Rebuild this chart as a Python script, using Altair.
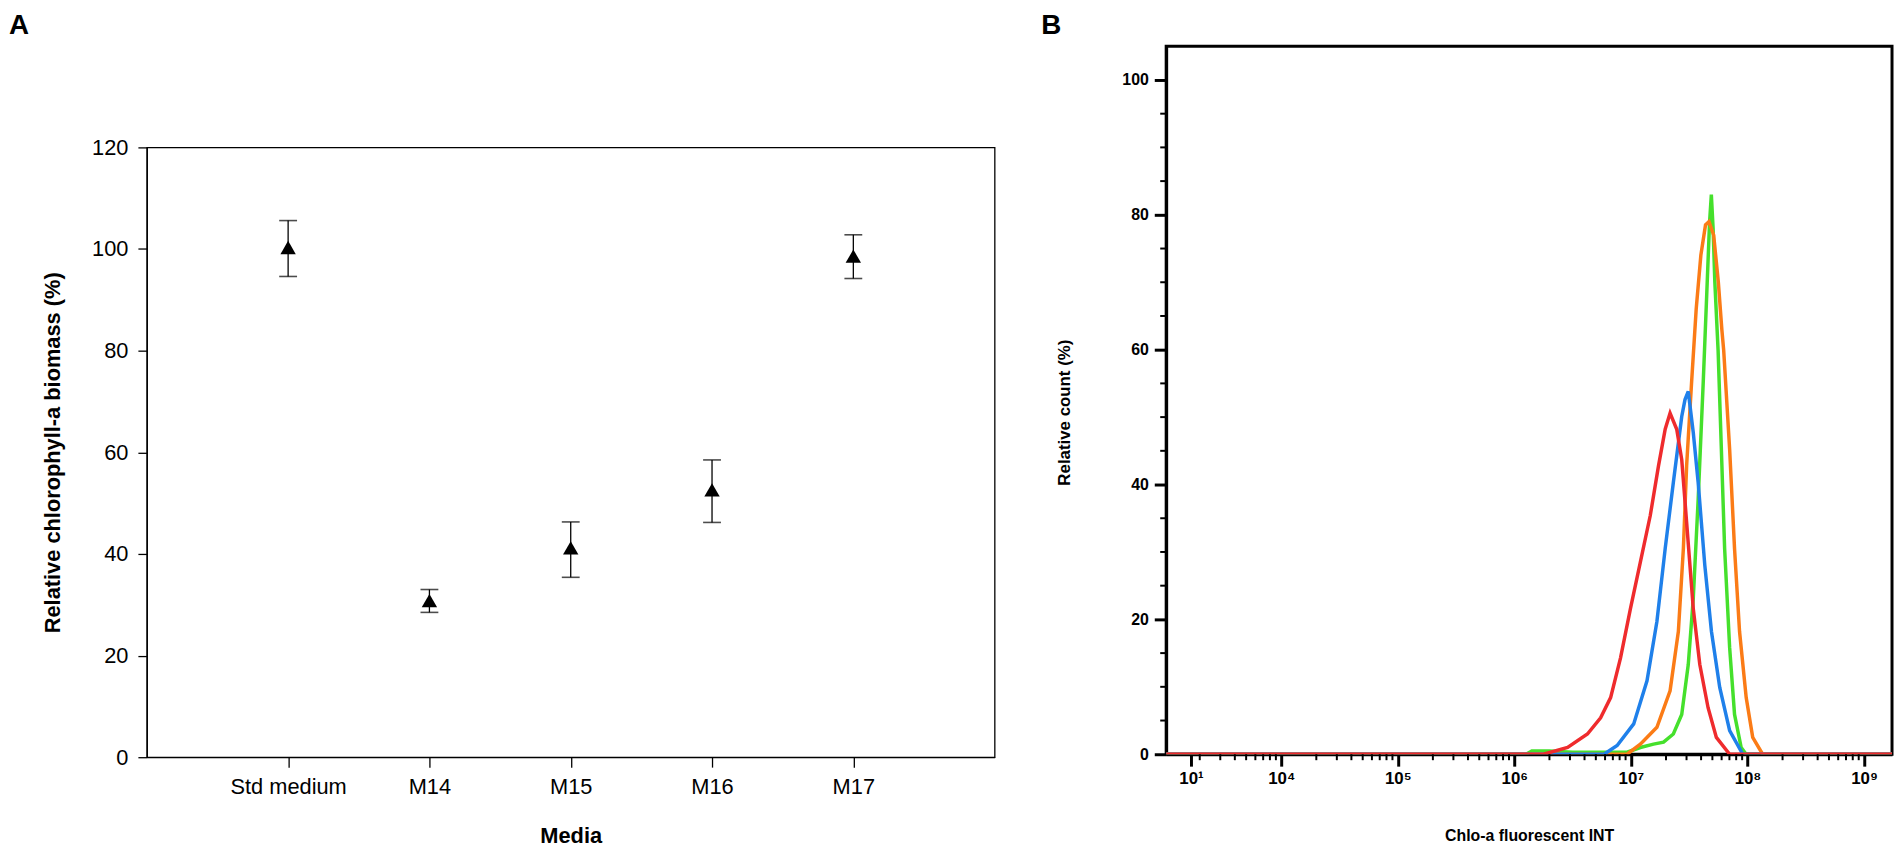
import altair as alt
import pandas as pd

# ---------------- Panel A data ----------------
media = ["Std medium", "M14", "M15", "M16", "M17"]
biomass_mean = [100.3, 30.8, 41.2, 52.6, 98.6]
biomass_low = [94.6, 28.5, 35.4, 46.2, 94.2]
biomass_high = [105.6, 33.0, 46.3, 58.5, 102.8]

# ---------------- Panel B data (log10 of fluorescence, relative count %) ----------------
green_logx = [3.013, 6.10, 6.15, 6.30, 6.50, 6.967, 7.081, 7.194, 7.28, 7.364, 7.436, 7.492, 7.535,
              7.577, 7.62, 7.65, 7.675, 7.69, 7.705, 7.72, 7.748, 7.776, 7.804, 7.847, 7.889, 7.946,
              7.989, 9.24]
green_y = [0, 0, 0.5, 0.5, 0.3, 0.3, 1.0, 1.5, 1.8, 3.0, 5.9, 13.3, 23.1,
           37.8, 55.0, 68.0, 79.0, 83.0, 78.0, 70.0, 59.9, 45.2, 30.5, 15.8, 5.9, 1.0,
           0, 0]

orange_logx = [3.013, 6.967, 7.081, 7.223, 7.336, 7.407, 7.45, 7.478, 7.52, 7.56, 7.60, 7.64, 7.67,
               7.71, 7.75, 7.78, 7.796, 7.847, 7.889, 7.932, 7.989, 8.045, 8.13, 9.24]
orange_y = [0, 0, 1.5, 4.0, 9.4, 18.2, 30.5, 42.8, 55.0, 66.0, 74.0, 78.5, 79.0,
            77.0, 70.0, 63.0, 59.9, 45.2, 30.5, 18.2, 8.4, 2.5, 0, 0]

blue_logx = [3.013, 6.769, 6.882, 7.024, 7.138, 7.223, 7.294, 7.364, 7.436, 7.464, 7.492, 7.535,
             7.577, 7.634, 7.691, 7.762, 7.847, 7.96, 9.24]
blue_y = [0, 0, 1.3, 4.5, 10.9, 19.7, 30.5, 40.3, 50.1, 52.6, 53.8, 47.7,
          40.3, 28.0, 18.2, 9.9, 3.5, 0, 0]

red_logx = [3.013, 6.25, 6.457, 6.627, 6.74, 6.826, 6.911, 6.996, 7.081, 7.166, 7.237, 7.294, 7.336,
            7.393, 7.436, 7.478, 7.535, 7.591, 7.662, 7.733, 7.847, 9.24]
red_y = [0, 0, 1.0, 3.0, 5.4, 8.4, 14.3, 21.6, 28.5, 35.4, 42.8, 48.2, 50.6,
         48.2, 43.7, 34.4, 21.6, 13.3, 6.9, 2.5, 0, 0]

series_colors = {"green": "#45e02c", "orange": "#fb7b16", "blue": "#1f80ea", "red": "#ef2b2d"}

x_tick_log = [3.226, 4, 5, 6, 7, 8, 9]
x_tick_labels = ["10\u00b9", "10\u2074", "10\u2075", "10\u2076", "10\u2077", "10\u2078", "10\u2079"]
x_domain_log = [3.013, 9.24]
y_major_b = [0, 20, 40, 60, 80, 100]
y_minor_b = [5, 10, 15, 25, 30, 35, 45, 50, 55, 65, 70, 75, 85, 90, 95]

FONT_A = "Liberation Sans"
FONT_B = "Liberation Sans"

# ---------------- Panel A ----------------
dfA = pd.DataFrame({"media": media, "mean": biomass_mean, "low": biomass_low, "high": biomass_high})
ytitleA = "Relative chlorophyll-a biomass (%)"
xA_scale = alt.Scale(type="point", padding=1)
yA_scale = alt.Scale(domain=[0, 120], nice=False, zero=True)

xA_axis = alt.Axis(labelFont=FONT_A, labelFontSize=22, labelAngle=0, labelColor="black",
                   labelPadding=10, tickSize=10, tickColor="black", tickWidth=1.3,
                   domainColor="black", domainWidth=1.3, titleFont=FONT_A,
                   titleFontSize=22, titleFontWeight="bold", titleColor="black",
                   titlePadding=28, grid=False)
yA_axis = alt.Axis(values=[0, 20, 40, 60, 80, 100, 120], labelFont=FONT_A, labelFontSize=22,
                   labelColor="black", labelPadding=10, tickSize=9, tickColor="black",
                   tickWidth=1.3, domainColor="black", domainWidth=1.3, titleFont=FONT_A,
                   titleFontSize=22, titleFontWeight="bold", titleColor="black",
                   titlePadding=27, grid=False)


def xA():
    return alt.X("media:N", sort=media, scale=xA_scale, axis=xA_axis, title="Media")


def yA(field):
    return alt.Y(field, type="quantitative", scale=yA_scale, axis=yA_axis, title=ytitleA)


baseA = alt.Chart(dfA)
errA = baseA.mark_rule(color="black", strokeWidth=1.3).encode(x=xA(), y=yA("low"), y2="high:Q")
capLo = baseA.mark_tick(color="black", size=18, thickness=1.6, orient="horizontal").encode(
    x=xA(), y=yA("low"))
capHi = baseA.mark_tick(color="black", size=18, thickness=1.6, orient="horizontal").encode(
    x=xA(), y=yA("high"))
ptsA = baseA.mark_point(shape="triangle-up", filled=True, color="black", size=240, opacity=1).encode(
    x=xA(), y=yA("mean"))

panelA = alt.layer(errA, capLo, capHi, ptsA).properties(
    width=855, height=615,
    view=alt.ViewBackground(stroke="black", strokeWidth=1.3),
)


def letter(txt, dx):
    return alt.Chart(pd.DataFrame({"t": [txt]})).mark_text(
        align="left", baseline="middle", fontSize=28, fontWeight="bold", font=FONT_A, color="black"
    ).encode(text="t:N", x=alt.value(dx), y=alt.value(-16))


spacerA = letter("A", -139).properties(width=855, height=93,
                                       view=alt.ViewBackground(stroke="transparent"))
leftCol = alt.vconcat(spacerA, panelA, spacing=0)

# ---------------- Panel B ----------------
def make_df(logx, ys):
    return pd.DataFrame({"fl": [10 ** v for v in logx], "count": ys})


x_tick_vals = [10 ** v for v in x_tick_log]
conds = []
for i in range(len(x_tick_log) - 1):
    thr = 10 ** ((x_tick_log[i] + x_tick_log[i + 1]) / 2)
    conds.append(f"datum.value < {thr:.1f} ? '{x_tick_labels[i]}' : ")
label_expr = "".join(conds) + f"'{x_tick_labels[-1]}'"

xB_scale = alt.Scale(type="log", domain=[10 ** x_domain_log[0], 10 ** x_domain_log[1]], nice=False)
yB_scale = alt.Scale(domain=[0, 105], nice=False)

xB_axis = alt.Axis(values=x_tick_vals, labelExpr=label_expr, labelFont=FONT_B, labelFontSize=17,
                   labelFontWeight="bold", labelColor="black", labelPadding=5, labelFlush=False,
                   labelOverlap=False, tickSize=12, tickWidth=3, tickColor="black",
                   domainColor="black", domainWidth=3, titleFont=FONT_B, titleFontSize=16,
                   titleFontWeight="bold", titleColor="black", titlePadding=41, grid=False)
yB_axis = alt.Axis(values=y_major_b, labelFont=FONT_B, labelFontSize=16, labelFontWeight="bold",
                   labelColor="black", labelPadding=6, tickSize=12, tickWidth=3,
                   tickColor="black", domainColor="black", domainWidth=3, titleFont=FONT_B,
                   titleFontSize=17, titleFontWeight="bold", titleColor="black",
                   titlePadding=49, titleY=369, grid=False)

XT = "Chlo-a fluorescent INT"
YT = "Relative count (%)"


def xB():
    return alt.X("fl:Q", scale=xB_scale, axis=xB_axis, title=XT)


def yB():
    return alt.Y("count:Q", scale=yB_scale, axis=yB_axis, title=YT)


line_layers = []
for name, lx, ly in [("green", green_logx, green_y), ("orange", orange_logx, orange_y),
                     ("blue", blue_logx, blue_y), ("red", red_logx, red_y)]:
    line_layers.append(
        alt.Chart(make_df(lx, ly)).mark_line(color=series_colors[name], strokeWidth=3.5, clip=True)
        .encode(x=xB(), y=yB())
    )

x_minor_vals = [m * 10 ** k for k in range(3, 9) for m in range(2, 10)
                if 10 ** x_domain_log[0] < m * 10 ** k < 10 ** x_domain_log[1]]
xminor = alt.Chart(pd.DataFrame({"fl": x_minor_vals})).mark_rule(color="black", strokeWidth=2).encode(
    x=xB(), y=alt.value(714), y2=alt.value(720))
yminor = alt.Chart(pd.DataFrame({"count": y_minor_b})).mark_rule(color="black", strokeWidth=2).encode(
    y=yB(), x=alt.value(-6), x2=alt.value(0))

panelB = alt.layer(*line_layers, xminor, yminor).properties(
    width=732, height=714,
    view=alt.ViewBackground(stroke="black", strokeWidth=3),
)
spacerB = letter("B", -126).properties(width=732, height=1,
                                       view=alt.ViewBackground(stroke="transparent"))
rightCol = alt.vconcat(spacerB, panelB, spacing=0)

chart = alt.hconcat(leftCol, rightCol, spacing=45).properties(
    padding=0, background="white"
)

chart.save("out.html", embed_options={"renderer": "svg", "actions": False})
